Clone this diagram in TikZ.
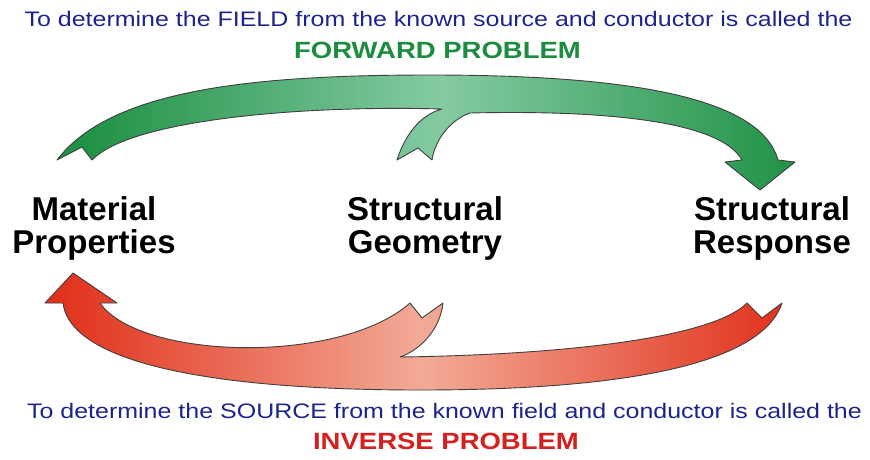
\documentclass[tikz,border=0pt]{standalone}
\usepackage{fontspec}
\setmainfont{Liberation Sans}
\newfontfamily\capfont[FakeStretch=1.19]{Liberation Sans}
\newfontfamily\headfont[FakeStretch=1.17]{Liberation Sans}
\usetikzlibrary{positioning}
\definecolor{capblue}{RGB}{28,36,140}
\definecolor{fwdgreen}{RGB}{28,140,62}
\definecolor{invred}{RGB}{212,32,30}
\definecolor{greendark}{RGB}{30,145,68}
\definecolor{greenlight}{RGB}{132,202,162}
\definecolor{reddark}{RGB}{225,50,28}
\definecolor{redlight}{RGB}{242,170,150}

% outlines of the two block arrows
\newcommand{\fwdband}{(57,160) .. controls (110,90) and (250,75) .. (430,75)
  .. controls (620,75) and (760,95) .. (778,160)
  -- (795,162) -- (760,190) -- (725,162) -- (742,160)
  .. controls (720,120) and (600,110) .. (470,113)
  .. controls (450,120) and (435,140) .. (432,160)
  -- (418,148) -- (397,160)
  .. controls (405,135) and (420,115) .. (442,109)
  .. controls (300,105) and (130,120) .. (92,160)
  -- (82,147) -- cycle}
\newcommand{\invband}{(73,273) -- (117,303) -- (100,303)
  .. controls (140,360) and (340,365) .. (410,303)
  -- (422,318) -- (443,303)
  .. controls (440,330) and (420,350) .. (400,357)
  .. controls (550,355) and (710,340) .. (747,303)
  -- (762,318) -- (782,303)
  .. controls (760,370) and (600,390) .. (420,390)
  .. controls (200,390) and (70,360) .. (63,303)
  -- (45,303) -- cycle}

\begin{document}
\begin{tikzpicture}[x=1pt, y=-1pt,
  caption/.style={font=\capfont\fontsize{21}{23}\selectfont, text=capblue, inner sep=0pt},
  heading/.style={font=\headfont\bfseries\fontsize{23.5}{25}\selectfont, inner sep=0pt},
  term/.style={font=\bfseries\fontsize{33}{33}\selectfont, align=center, inner sep=0pt},
  band/.style={draw=black!75, line width=0.9pt, line join=round}]
\useasboundingbox (0,0) rectangle (870,459);

% ---------- captions ----------
\node[caption] (fwdtext) at (438.5,19)
  {To determine the FIELD from the known source and conductor is called the};
\node[heading, text=fwdgreen] (fwdhead) at (437.5,50) {FORWARD PROBLEM};
\node[caption] (invtext) at (444.5,411)
  {To determine the SOURCE from the known field and conductor is called the};
\node[heading, text=invred] (invhead) at (446,441) {INVERSE PROBLEM};

% ---------- the three quantities ----------
\node[term] (material) at (94,228.5) {Material\\Properties};
\node[term] (geometry) at (425,228.5) {Structural\\Geometry};
\node[term] (response) at (772,228.5) {Structural\\Response};

% ---------- forward arrow (green) ----------
\begin{scope}
  \clip \fwdband;
  \foreach \x in {40,44,...,800} {
    \pgfmathtruncatemacro\mix{min(100,abs(\x-440)/360*100)}
    \fill[greendark!\mix!greenlight] (\x,60) rectangle ++(4.6,140);
  }
\end{scope}
\draw[band] \fwdband;

% ---------- inverse arrow (red) ----------
\begin{scope}
  \clip \invband;
  \foreach \x in {40,44,...,800} {
    \pgfmathtruncatemacro\mix{min(100,abs(\x-420)/360*100)}
    \fill[reddark!\mix!redlight] (\x,260) rectangle ++(4.6,140);
  }
\end{scope}
\draw[band] \invband;
\end{tikzpicture}
\end{document}
